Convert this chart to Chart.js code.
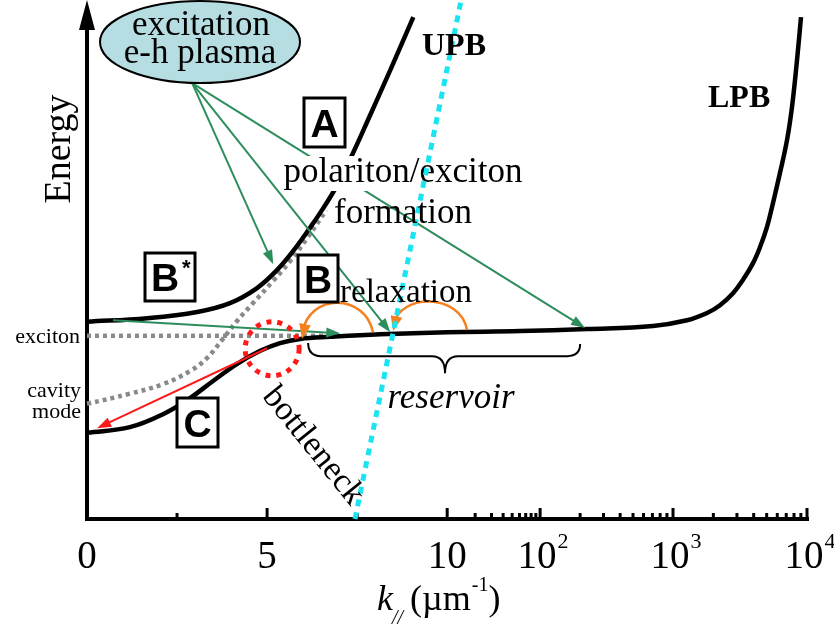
<!DOCTYPE html>
<html>
<head>
<meta charset="utf-8">
<script src="https://cdn.jsdelivr.net/npm/chart.js@4/dist/chart.umd.min.js"></script>
<style>
  html, body { margin: 0; padding: 0; background: #fff; }
  canvas { display: block; }
</style>
</head>
<body>
<canvas id="chart" width="834" height="637"></canvas>
<script>
// ---- Dispersion data: in-plane wave vector k (µm^-1) and energy (arb. units) ----
const upbK = [0, 1.67, 3.06, 3.97, 4.72, 5.28, 5.72, 6.19, 6.56, 6.92, 7.31, 7.86, 8.42, 9.06];
const upbE = [38.0, 38.7, 39.9, 41.6, 44.5, 48.0, 51.6, 56.1, 59.9, 64.0, 69.4, 77.8, 86.5, 96.7];

const lpbK = [0, 1.19, 2.11, 2.86, 3.5, 4.17, 4.81, 5.36, 5.92, 6.75, 8.14, 10, 61, 226, 707,
              1272, 1794, 2243, 2804, 3331, 3954, 4461, 5030, 5576, 6288, 7093, 7727, 8421, 9020];
const lpbE = [16.6, 17.7, 20.2, 23.3, 26.6, 29.9, 32.4, 33.9, 34.7, 35.1, 35.6, 36.0, 36.2, 36.6, 37.2,
              38.3, 39.7, 41.2, 43.5, 46.1, 49.3, 52.4, 56.3, 60.9, 66.7, 73.0, 79.4, 88.4, 96.7];

const cavityK = [0, 1.17, 2.11, 2.86, 3.33, 3.75, 4.17, 4.61, 5.17, 5.64, 6.11, 6.64];
const cavityE = [22.2, 24.1, 26.0, 28.5, 31.0, 34.5, 38.2, 41.6, 45.9, 49.7, 54.1, 59.5];

const excitonK = [0, 6.9];
const excitonE = [35.3, 35.3];

// light cone / cutoff line
const cutoffK = [7.44, 14.15];
const cutoffE = [0, 100];

// ---- Process arrows and markers (k, E) ----
const plasmaK = 2.92, plasmaE = 84.0;              // e-h plasma source point
const pumpToK = [5.17, 8.42, 218];                 // formation targets
const pumpToE = [49.1, 36.0, 36.8];
const upbRelaxK = [0.72, 7.03];                    // B* -> reservoir
const upbRelaxE = [38.3, 35.8];
const lasingK = [5.0, 0.28];                       // C: bottleneck -> k=0
const lasingE = [32.9, 17.5];
const bottleneckK = 5.14, bottleneckE = 32.8;
// relaxation hops: start, ctrl1, ctrl2, end
const hop1K = [7.94, 7.72, 6.19, 5.97];
const hop1E = [36.0, 43.4, 43.8, 34.7];
const hop2K = [16.4, 13.8, 8.69, 8.5];
const hop2E = [36.4, 43.6, 43.6, 36.2];
// reservoir brace: left end, tip, right end
const braceK = [6.14, 9.94, 200];
const braceE = [33.9, 28.1, 33.7];

// ---- Axis ticks ----
const majorTicks = [0, 5, 10, 100, 1000, 10000];
const tickBase = ['0', '5', '10', '10', '10', '10'];
const tickExp = ['', '', '', '2', '3', '4'];
const minorTicks = [2.5, 7.5,
  20, 30, 40, 50, 60, 70, 80, 90,
  200, 300, 400, 500, 600, 700, 800, 900,
  2000, 3000, 4000, 5000, 6000, 7000, 8000, 9000];

// ---- Broken axis: linear 0–10, then one log section per decade ----
const SEG = [10, 2.58, 3.69, 3.72];
const SPAN = SEG[0] + SEG[1] + SEG[2] + SEG[3];
function axisUnits(k) {
  if (k <= 10) return k;
  if (k <= 100) return SEG[0] + SEG[1] * Math.log10(k / 10);
  if (k <= 1000) return SEG[0] + SEG[1] + SEG[2] * Math.log10(k / 100);
  return SEG[0] + SEG[1] + SEG[2] + SEG[3] * Math.log10(k / 1000);
}
function unitsToK(u) {
  if (u <= SEG[0]) return u;
  if (u <= SEG[0] + SEG[1]) return 10 * Math.pow(10, (u - SEG[0]) / SEG[1]);
  if (u <= SEG[0] + SEG[1] + SEG[2]) return 100 * Math.pow(10, (u - SEG[0] - SEG[1]) / SEG[2]);
  return 1000 * Math.pow(10, (u - SEG[0] - SEG[1] - SEG[2]) / SEG[3]);
}
class SplitScale extends Chart.LinearScale {
  getPixelForValue(value) { return this.getPixelForDecimal(axisUnits(value) / SPAN); }
  getValueForPixel(pixel) { return unitsToK(this.getDecimalForPixel(pixel) * SPAN); }
}
SplitScale.id = 'split';
SplitScale.defaults = {};
Chart.register(SplitScale);

const zip = (xs, ys) => xs.map((x, i) => ({ x, y: ys[i] }));

const SERIF = '"Liberation Serif", "Times New Roman", serif';
const SANS = '"Liberation Sans", Arial, sans-serif';
const GREEN = '#2e8d5c';
const RED = '#ff1a1a';
const ORANGE = '#f5801f';
const CYAN = '#1ae4f2';

function P(chart, k, e) {
  return [chart.scales.x.getPixelForValue(k), chart.scales.y.getPixelForValue(e)];
}
function head(ctx, from, to, color, len, half) {
  const a = Math.atan2(to[1] - from[1], to[0] - from[0]);
  const c = Math.cos(a), s = Math.sin(a);
  ctx.fillStyle = color;
  ctx.beginPath();
  ctx.moveTo(to[0], to[1]);
  ctx.lineTo(to[0] - len * c + half * s, to[1] - len * s - half * c);
  ctx.lineTo(to[0] - len * c - half * s, to[1] - len * s + half * c);
  ctx.closePath();
  ctx.fill();
}
function arrow(ctx, from, to, color, width) {
  const a = Math.atan2(to[1] - from[1], to[0] - from[0]);
  ctx.strokeStyle = color;
  ctx.lineWidth = width;
  ctx.setLineDash([]);
  ctx.beginPath();
  ctx.moveTo(from[0], from[1]);
  ctx.lineTo(to[0] - 10 * Math.cos(a), to[1] - 10 * Math.sin(a));
  ctx.stroke();
  head(ctx, from, to, color, 14, 5);
}
function text(ctx, str, x, y, font, align, color) {
  ctx.font = font;
  ctx.textAlign = align || 'left';
  ctx.textBaseline = 'alphabetic';
  ctx.fillStyle = color || '#000';
  ctx.fillText(str, x, y);
}
function boxLabel(ctx, letter, sup, x, y, w, h) {
  ctx.fillStyle = '#fff';
  ctx.fillRect(x, y, w, h);
  ctx.strokeStyle = '#000';
  ctx.lineWidth = 3;
  ctx.setLineDash([]);
  ctx.strokeRect(x, y, w, h);
  const cx = sup ? x + w / 2 - 5 : x + w / 2;
  text(ctx, letter, cx, y + h / 2 + 14, 'bold 39px ' + SANS, 'center');
  if (sup) text(ctx, sup, cx + 17, y + h / 2 - 2, 'bold 22px ' + SANS, 'left');
}

const diagram = {
  id: 'diagram',
  beforeDatasetsDraw(chart) {
    const ctx = chart.ctx;
    const xs = chart.scales.x, ys = chart.scales.y;
    const x0 = xs.getPixelForValue(0), x1 = xs.getPixelForValue(10000);
    const y0 = ys.getPixelForValue(0), yTop = ys.getPixelForValue(100);
    ctx.save();
    ctx.strokeStyle = '#000';
    ctx.fillStyle = '#000';
    ctx.lineCap = 'butt';
    // energy axis with arrow
    ctx.lineWidth = 4;
    ctx.beginPath();
    ctx.moveTo(x0, y0 + 2);
    ctx.lineTo(x0, yTop + 26);
    ctx.stroke();
    ctx.beginPath();
    ctx.moveTo(x0, yTop);
    ctx.lineTo(x0 - 8, yTop + 30);
    ctx.lineTo(x0 + 8, yTop + 30);
    ctx.closePath();
    ctx.fill();
    // k axis
    ctx.beginPath();
    ctx.moveTo(x0 - 2, y0);
    ctx.lineTo(x1 + 2, y0);
    ctx.stroke();
    ctx.lineWidth = 3;
    majorTicks.forEach(k => {
      const x = xs.getPixelForValue(k);
      ctx.beginPath(); ctx.moveTo(x, y0); ctx.lineTo(x, y0 - 11); ctx.stroke();
    });
    minorTicks.forEach(k => {
      const x = xs.getPixelForValue(k);
      ctx.beginPath(); ctx.moveTo(x, y0); ctx.lineTo(x, y0 - 6); ctx.stroke();
    });
    // tick labels
    majorTicks.forEach((k, i) => {
      const x = xs.getPixelForValue(k);
      if (!tickExp[i]) {
        text(ctx, tickBase[i], x, y0 + 49, '39px ' + SERIF, 'center');
      } else {
        ctx.font = '39px ' + SERIF;
        const w = ctx.measureText(tickBase[i]).width;
        text(ctx, tickBase[i], x - 3, y0 + 49, '39px ' + SERIF, 'center');
        text(ctx, tickExp[i], x - 3 + w / 2 + 1, y0 + 29, '22px ' + SERIF, 'left');
      }
    });
    // k axis title: k_// (µm^-1)
    let tx = 377;
    const tb = 610;
    text(ctx, 'k', tx, tb, 'italic 36px ' + SERIF, 'left');
    ctx.font = 'italic 36px ' + SERIF;
    tx += ctx.measureText('k').width;
    text(ctx, '//', tx - 1, tb + 14, 'italic 20px ' + SERIF, 'left');
    ctx.font = 'italic 20px ' + SERIF;
    tx += ctx.measureText('//').width + 6;
    text(ctx, '(µm', tx, tb, '36px ' + SERIF, 'left');
    ctx.font = '36px ' + SERIF;
    tx += ctx.measureText('(µm').width;
    text(ctx, '-1', tx + 1, tb - 19, '20px ' + SERIF, 'left');
    ctx.font = '20px ' + SERIF;
    tx += ctx.measureText('-1').width + 1;
    text(ctx, ')', tx, tb, '36px ' + SERIF, 'left');
    // energy axis title
    ctx.save();
    ctx.translate(70, 149);
    ctx.rotate(-Math.PI / 2);
    text(ctx, 'Energy', 0, 0, '38px ' + SERIF, 'center');
    ctx.restore();
    ctx.restore();
  },
  beforeDatasetDraw(chart, args) {
    if (chart.data.datasets[args.index].label !== 'cutoff') return;
    const ctx = chart.ctx;
    ctx.save();
    ctx.lineCap = 'butt';
    // formation arrows from the plasma
    const src = P(chart, plasmaK, plasmaE);
    pumpToK.forEach((k, i) => arrow(ctx, src, P(chart, k, pumpToE[i]), GREEN, 2));
    arrow(ctx, P(chart, upbRelaxK[0], upbRelaxE[0]), P(chart, upbRelaxK[1], upbRelaxE[1]), GREEN, 2);
    // stimulated scattering to k = 0
    arrow(ctx, P(chart, lasingK[0], lasingE[0]), P(chart, lasingK[1], lasingE[1]), RED, 2);
    // bottleneck circle
    const bc = P(chart, bottleneckK, bottleneckE);
    ctx.strokeStyle = RED;
    ctx.lineWidth = 5;
    ctx.setLineDash([5, 6]);
    ctx.beginPath();
    ctx.arc(bc[0], bc[1], 27, 0, Math.PI * 2);
    ctx.stroke();
    ctx.setLineDash([]);
    // relaxation hops
    [[hop1K, hop1E], [hop2K, hop2E]].forEach(([hk, he]) => {
      const p = hk.map((k, i) => P(chart, k, he[i]));
      ctx.strokeStyle = ORANGE;
      ctx.lineWidth = 2.5;
      ctx.beginPath();
      ctx.moveTo(p[0][0], p[0][1]);
      ctx.bezierCurveTo(p[1][0], p[1][1], p[2][0], p[2][1], p[3][0], p[3][1] - 6);
      ctx.stroke();
      head(ctx, [p[2][0] + 2, p[2][1]], p[3], ORANGE, 15, 6);
    });
    // reservoir brace
    const L = P(chart, braceK[0], braceE[0]);
    const T = P(chart, braceK[1], braceE[1]);
    const R = P(chart, braceK[2], braceE[2]);
    const yl = T[1] - 17;
    ctx.strokeStyle = '#000';
    ctx.lineWidth = 2;
    ctx.beginPath();
    ctx.moveTo(L[0], L[1]);
    ctx.quadraticCurveTo(L[0], yl, L[0] + 13, yl);
    ctx.lineTo(T[0] - 13, yl);
    ctx.quadraticCurveTo(T[0], yl, T[0], T[1]);
    ctx.quadraticCurveTo(T[0], yl, T[0] + 13, yl);
    ctx.lineTo(R[0] - 13, yl);
    ctx.quadraticCurveTo(R[0], yl, R[0], R[1]);
    ctx.stroke();
    // formation label sits on a white band over the curves
    ctx.fillStyle = '#fff';
    ctx.fillRect(282, 156, 242, 35);
    text(ctx, 'polariton/exciton', 403, 182, '35px ' + SERIF, 'center');
    ctx.restore();
  },
  afterDatasetsDraw(chart) {
    const ctx = chart.ctx;
    ctx.save();
    // plasma ellipse
    ctx.beginPath();
    ctx.ellipse(200, 42, 100, 41, 0, 0, Math.PI * 2);
    ctx.fillStyle = '#b6dde1';
    ctx.fill();
    ctx.strokeStyle = '#000';
    ctx.lineWidth = 2;
    ctx.setLineDash([]);
    ctx.stroke();
    text(ctx, 'excitation', 201, 35, '35px ' + SERIF, 'center');
    text(ctx, 'e-h plasma', 200, 63, '35px ' + SERIF, 'center');
    // branch names
    text(ctx, 'UPB', 422, 55, 'bold 32px ' + SERIF, 'left');
    text(ctx, 'LPB', 708, 107, 'bold 32px ' + SERIF, 'left');
    // process labels
    text(ctx, 'formation', 403, 223, '35px ' + SERIF, 'center');
    text(ctx, 'relaxation', 406, 302, '33px ' + SERIF, 'center');
    text(ctx, 'reservoir', 451, 408, 'italic 35px ' + SERIF, 'center');
    ctx.save();
    ctx.translate(313, 446);
    ctx.rotate(51 * Math.PI / 180);
    ctx.font = '34px ' + SERIF;
    ctx.textAlign = 'center';
    ctx.textBaseline = 'middle';
    ctx.fillStyle = '#000';
    ctx.fillText('bottleneck', 0, 0);
    ctx.restore();
    // mode names at k = 0
    text(ctx, 'exciton', 80, 343, '22px ' + SERIF, 'right');
    text(ctx, 'cavity', 81, 397, '22px ' + SERIF, 'right');
    text(ctx, 'mode', 81, 418, '22px ' + SERIF, 'right');
    // process boxes
    boxLabel(ctx, 'A', '', 304, 98, 41, 49);
    boxLabel(ctx, 'B', '*', 145, 253, 50, 48);
    boxLabel(ctx, 'B', '', 298, 255, 40, 47);
    boxLabel(ctx, 'C', '', 177, 398, 41, 49);
    ctx.restore();
  }
};

new Chart(document.getElementById('chart'), {
  type: 'line',
  data: {
    datasets: [
      { label: 'cutoff', data: zip(cutoffK, cutoffE), borderColor: CYAN, borderWidth: 5,
        borderDash: [7, 6], order: -1, clip: false },
      { label: 'LPB', data: zip(lpbK, lpbE), borderColor: '#000', borderWidth: 4.5,
        tension: 0.4, order: 1, clip: false },
      { label: 'UPB', data: zip(upbK, upbE), borderColor: '#000', borderWidth: 4.5,
        tension: 0.4, order: 1, clip: false },
      { label: 'cavity mode', data: zip(cavityK, cavityE), borderColor: '#8a8a8a', borderWidth: 4.5,
        borderDash: [4, 4], tension: 0.4, order: 2, clip: false },
      { label: 'exciton', data: zip(excitonK, excitonE), borderColor: '#8a8a8a', borderWidth: 4.5,
        borderDash: [4, 4], order: 2, clip: false }
    ]
  },
  options: {
    responsive: false,
    animation: false,
    devicePixelRatio: 1,
    events: [],
    layout: { padding: { left: 87, right: 27, top: 0, bottom: 118 } },
    plugins: { legend: { display: false }, tooltip: { enabled: false } },
    elements: { point: { radius: 0 }, line: { borderCapStyle: 'butt', borderJoinStyle: 'round' } },
    scales: {
      x: { type: 'split', min: 0, max: 10000, display: false },
      y: { type: 'linear', min: 0, max: 100, display: false }
    }
  },
  plugins: [diagram]
});
</script>
</body>
</html>
